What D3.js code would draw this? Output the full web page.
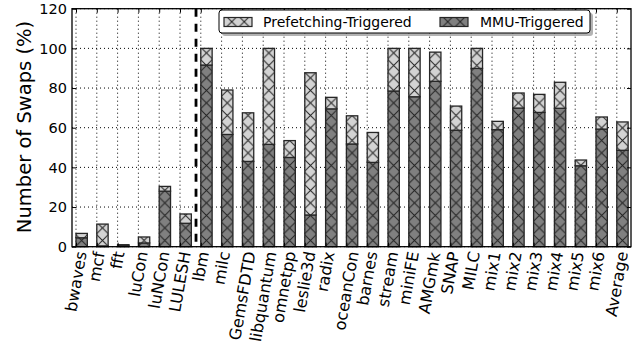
<!DOCTYPE html>
<html>
<head>
<meta charset="utf-8">
<script src="https://cdn.jsdelivr.net/npm/d3@7/dist/d3.min.js"></script>
<style>
  html, body { margin: 0; padding: 0; background: #fff; }
  svg { display: block; }
  text { font-family: "DejaVu Sans", sans-serif; fill: #000; }
</style>
</head>
<body>
<svg id="chart" width="636" height="345"></svg>
<script>
const categories = ["bwaves","mcf","fft","luCon","luNCon","LULESH","lbm","milc","GemsFDTD","libquantum","omnetpp","leslie3d","radix","oceanCon","barnes","stream","miniFE","AMGmk","SNAP","MILC","mix1","mix2","mix3","mix4","mix5","mix6","Average"];
const mmuTriggered = [4.5, 0.4, 0.7, 1.9, 28.0, 11.8, 91.6, 56.6, 43.0, 51.6, 45.0, 16.0, 69.5, 51.8, 42.5, 78.5, 75.6, 83.4, 58.7, 89.9, 59.0, 69.9, 67.7, 69.8, 40.8, 59.3, 48.6];
const prefetchTriggered = [2.2, 11.0, 0.3, 3.0, 2.4, 4.7, 8.4, 22.4, 24.5, 48.4, 8.5, 71.7, 5.8, 14.2, 15.1, 21.5, 24.4, 14.7, 12.2, 10.1, 4.2, 7.6, 9.1, 13.1, 2.9, 6.1, 14.3];
const yTicks = [0, 20, 40, 60, 80, 100, 120];
const seriesNames = ["Prefetching-Triggered", "MMU-Triggered"];

const svg = d3.select("#chart");
const W = 636, H = 345;
const plot = {left: 72, right: 631, top: 8.7, bottom: 246.7};
const colMMU = "#808080", colPre = "#d3d3d3", edge = "#262626";
const P = 12.5;

svg.append("rect").attr("width", W).attr("height", H).attr("fill", "#fff");

const x = d3.scaleLinear().domain([0, categories.length - 1]).range([76, 616.8]);
const step = x(1) - x(0);
const bw = step * 0.545;
const y = d3.scaleLinear().domain([0, 120]).range([plot.bottom, plot.top]);

const defs = svg.append("defs");
function makePattern(id, color, cx) {
  const p = defs.append("pattern").attr("id", id)
    .attr("patternUnits", "userSpaceOnUse")
    .attr("x", cx - P / 2).attr("y", plot.bottom)
    .attr("width", P).attr("height", P);
  p.append("rect").attr("width", P).attr("height", P).attr("fill", color);
  p.append("path").attr("d", `M0,0L${P},${P}M0,${P}L${P},0M-1,-1L1,1M${P-1},${P+1}L${P+1},${P-1}`)
    .attr("stroke", "#222").attr("stroke-width", 1).attr("fill", "none");
  return `url(#${id})`;
}

// grid
const grid = svg.append("g");
yTicks.forEach(t => {
  grid.append("line").attr("x1", plot.left).attr("x2", plot.right)
    .attr("y1", y(t)).attr("y2", y(t))
    .attr("stroke", "#000").attr("stroke-width", 1).attr("stroke-dasharray", "1,3");
});
categories.forEach((c, i) => {
  grid.append("line").attr("x1", x(i)).attr("x2", x(i))
    .attr("y1", plot.top).attr("y2", plot.bottom)
    .attr("stroke", "#000").attr("stroke-width", 1).attr("stroke-dasharray", "1,3");
});

// bars
const bars = svg.append("g");
categories.forEach((c, i) => {
  const cx = x(i) + bw / 2;
  const fm = makePattern("m" + i, colMMU, cx);
  const fp = makePattern("p" + i, colPre, cx);
  const m = mmuTriggered[i], p = prefetchTriggered[i];
  bars.append("rect").attr("x", x(i)).attr("width", bw)
    .attr("y", y(m)).attr("height", y(0) - y(m))
    .attr("fill", fm).attr("stroke", edge).attr("stroke-width", 1.3);
  bars.append("rect").attr("x", x(i)).attr("width", bw)
    .attr("y", y(m + p)).attr("height", y(m) - y(m + p))
    .attr("fill", fp).attr("stroke", edge).attr("stroke-width", 1.3);
});

// dashed separator
svg.append("line").attr("x1", x(5.77)).attr("x2", x(5.77))
  .attr("y1", plot.top).attr("y2", plot.bottom)
  .attr("stroke", "#000").attr("stroke-width", 2.8).attr("stroke-dasharray", "8,7");

// axes
const yAxisL = d3.axisLeft(y).tickValues(yTicks).tickSizeInner(-4).tickSizeOuter(0).tickPadding(5);
const gL = svg.append("g").attr("transform", `translate(${plot.left},0)`).call(yAxisL);
gL.selectAll("text").style("font-size", "14.5px").style("font-family", "DejaVu Sans");
const gR = svg.append("g").attr("transform", `translate(${plot.right},0)`)
  .call(d3.axisRight(y).tickValues(yTicks).tickSizeInner(-4).tickSizeOuter(0).tickFormat(""));
const xi = d3.scaleLinear().domain([0, categories.length - 1]).range([x(0), x(categories.length - 1)]);
const gB = svg.append("g").attr("transform", `translate(0,${plot.bottom})`)
  .call(d3.axisBottom(xi).tickValues(d3.range(categories.length)).tickSizeInner(-4).tickSizeOuter(0).tickFormat(""));
const gT = svg.append("g").attr("transform", `translate(0,${plot.top})`)
  .call(d3.axisTop(xi).tickValues(d3.range(categories.length)).tickSizeInner(-4).tickSizeOuter(0).tickFormat(""));
[gL, gR, gB, gT].forEach(g => {
  g.select(".domain").remove();
  g.selectAll(".tick line").attr("stroke", "#000").attr("stroke-width", 1);
});
svg.append("rect").attr("x", plot.left).attr("y", plot.top)
  .attr("width", plot.right - plot.left).attr("height", plot.bottom - plot.top)
  .attr("fill", "none").attr("stroke", "#000").attr("stroke-width", 1.3);

// x labels rotated 80 deg, centred on tick
const labels = svg.append("g");
categories.forEach((c, i) => {
  const t = labels.append("text").text(c)
    .attr("text-anchor", "end").attr("dominant-baseline", "central")
    .style("font-size", "16px")
    .attr("transform", "rotate(-80)");
  const bb = t.node().getBoundingClientRect();
  const dx = x(i) - (bb.left + bb.width / 2);
  const dy = 250 - bb.top;
  t.attr("transform", `translate(${dx},${dy}) rotate(-80)`);
});

// y label
svg.append("text").text("Number of Swaps (%)")
  .attr("text-anchor", "middle")
  .attr("transform", `translate(31,127) rotate(-90)`)
  .style("font-size", "19.5px");

// legend
const lg = svg.append("g");
const lx = 219, ly = 10, lw = 371, lh = 23;
lg.append("rect").attr("x", lx + 3).attr("y", ly + 3).attr("width", lw).attr("height", lh)
  .attr("rx", 3).attr("fill", "#808080").attr("opacity", 0.6);
lg.append("rect").attr("x", lx).attr("y", ly).attr("width", lw).attr("height", lh)
  .attr("rx", 3).attr("fill", "#fff").attr("stroke", "#000").attr("stroke-width", 1);
const legItems = [
  {name: seriesNames[0], color: colPre, px: 224, tx: 263},
  {name: seriesNames[1], color: colMMU, px: 440, tx: 480}
];
legItems.forEach((it, k) => {
  const f = makePattern("leg" + k, it.color, it.px + 14);
  lg.append("rect").attr("x", it.px).attr("y", 17.5).attr("width", 28).attr("height", 9)
    .attr("fill", f).attr("stroke", edge).attr("stroke-width", 1.2);
  lg.append("text").text(it.name).attr("x", it.tx).attr("y", 27)
    .style("font-size", "14px");
});
</script>
</body>
</html>
